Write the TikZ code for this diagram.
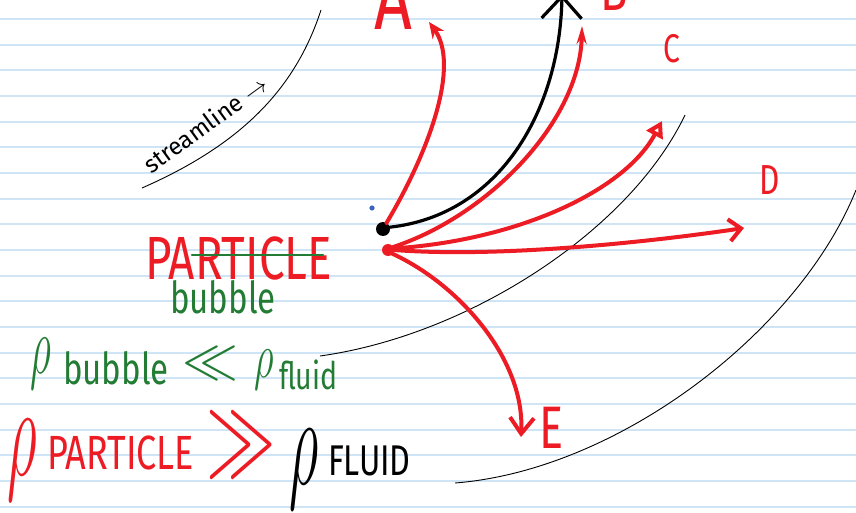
\RequirePackage{fix-cm}
\documentclass[tikz,border=0pt]{standalone}
\usepackage{graphicx}
\usepackage{fontspec}
\setmainfont{Fira Sans}
\newfontfamily\handfont[FakeStretch=0.75]{Fira Sans}
\usetikzlibrary{arrows.meta}
\definecolor{ruled}{RGB}{207,229,246}
\definecolor{inkred}{RGB}{237,28,36}
\definecolor{inkgreen}{RGB}{34,124,52}
\definecolor{inkblue}{RGB}{58,100,190}
\newcommand{\handrho}[1]{\scalebox{#1}[1]{$\rho$}}
\begin{document}
\begin{tikzpicture}[x=0.5pt,y=-0.5pt,
    redpen/.style={draw=inkred, line width=2pt, line cap=round},
    blackpen/.style={draw=black, line width=1.6pt, line cap=round},
    thinpen/.style={draw=black, line width=0.45pt},
    word/.style={inner sep=0pt, outer sep=0pt, anchor=base west},
    letter/.style={inner sep=0pt, outer sep=0pt, anchor=base, text=inkred},
    dot/.style={circle, inner sep=0pt, outer sep=0pt}]
	\clip (0,0) rectangle (856,513);
	\fill[white] (0,0) rectangle (856,513);
	\foreach \k in {0,...,19}
		\draw[ruled, line width=0.9pt] (0,{19+25.67*\k}) -- (856,{19+25.67*\k});
	% streamlines
	\draw[thinpen] (142,188) .. controls (240,145) and (295,90) .. (321,10);
	\draw[thinpen] (320,356) .. controls (470,335) and (630,230) .. (685,115);
	\draw[thinpen] (455,483) .. controls (620,470) and (800,330) .. (856,190);
	\node[inner sep=0pt, rotate=36, font=\fontsize{12}{12}\selectfont] (streamlbl) at (205,124) {streamline $\rightarrow$};
	% source points
	\node[dot, fill=black, minimum size=7pt] (blackdot) at (383,229) {};
	\node[dot, fill=inkred, minimum size=6pt] (reddot) at (388,250) {};
	\node[dot, fill=inkblue, minimum size=2.6pt] (bluedot) at (372,208) {};
	\coordinate (tipA) at (429,22);
	\coordinate (tipBlack) at (562,-6);
	\coordinate (tipB) at (582,26);
	\coordinate (tipC) at (662,121);
	\coordinate (tipD) at (744,228);
	\coordinate (tipE) at (521,437);
	\draw[redpen, -{Stealth[length=8pt,width=7pt]}] (blackdot.60) .. controls (430,150) and (460,65) .. (tipA);
	\draw[blackpen, -{Straight Barb[length=11pt,width=20pt]}] (blackdot.15) .. controls (500,215) and (560,110) .. (tipBlack);
	\draw[redpen, -{Stealth[length=9pt,width=5pt]}] (reddot.30) .. controls (490,215) and (580,120) .. (tipB);
	\draw[redpen, -{Triangle[open,length=8pt,width=9pt]}] (reddot.15) .. controls (520,240) and (625,190) .. (tipC);
	\draw[redpen, -{Straight Barb[length=6pt,width=11pt]}] (reddot.0) .. controls (500,258) and (650,242) .. (tipD);
	\draw[redpen, -{Straight Barb[length=8pt,width=12pt]}] (reddot.-40) .. controls (460,285) and (525,360) .. (tipE);
	\node[letter, font=\handfont\fontsize{44}{44}\selectfont] (labelA) at (393,30) {A};
	\node[letter, font=\handfont\fontsize{30}{30}\selectfont, anchor=base west] (labelB) at (600,11) {B};
	\node[letter, font=\handfont\fontsize{20}{20}\selectfont] (labelC) at (672,63) {C};
	\node[letter, font=\handfont\fontsize{21}{21}\selectfont] (labelD) at (770,195) {D};
	\node[letter, font=\handfont\fontsize{30}{30}\selectfont] (labelE) at (552,448) {E};
	% particle / bubble
	\node[word, text=inkred, font=\handfont\fontsize{30.5}{30.5}\selectfont] (particle) at (145,279) {PARTICLE};
	\draw[draw=inkgreen, line width=1.3pt, line cap=round] (192,255) -- (323,255);
	\node[word, text=inkgreen, font=\handfont\fontsize{22}{22}\selectfont] (bubble) at (170,313) {bubble};
	% density relations
	\node[word, text=inkgreen, font=\fontsize{41}{41}\selectfont] (rhobub) at (30,373) {\handrho{0.5}};
	\node[word, text=inkgreen, font=\handfont\fontsize{22}{22}\selectfont] (bubtxt) at (63,384) {bubble};
	\node[word, text=inkgreen, font=\fontsize{28}{28}\selectfont] (lessless) at (182,377) {$\ll$};
	\node[word, text=inkgreen, font=\fontsize{32}{32}\selectfont] (rhofl) at (254,377) {\handrho{0.6}};
	\node[word, text=inkgreen, font=\handfont\fontsize{19}{19}\selectfont] (fltxt) at (279,389) {fluid};
	\node[word, text=inkred, font=\fontsize{65}{65}\selectfont] (rhopart) at (8,475) {\handrho{0.45}};
	\node[word, text=inkred, font=\handfont\fontsize{24}{24}\selectfont] (parttxt) at (47,469) {PARTICLE};
	\node[word, text=inkred, font=\fontsize{55}{55}\selectfont] (gtgt) at (206,472) {\scalebox{0.63}[1]{$\gg$}};
	\node[word, text=black, font=\fontsize{64}{64}\selectfont] (rhofluid) at (289,484) {\handrho{0.45}};
	\node[word, text=black, font=\handfont\fontsize{21.5}{21.5}\selectfont] (fluidtxt) at (328,475) {FLUID};
\end{tikzpicture}
\end{document}
